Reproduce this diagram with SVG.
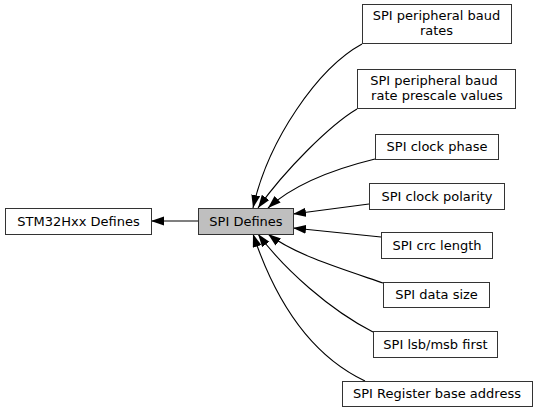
<svg xmlns="http://www.w3.org/2000/svg" width="537" height="411" viewBox="0 0 537 411">
<style>
.box{fill:#ffffff;stroke:#333333;stroke-width:1}
.cur{fill:#bfbfbf;stroke:#333333;stroke-width:1}
text{font-family:"DejaVu Sans",sans-serif;font-size:13px;fill:#000000;text-anchor:middle}
.edge{fill:none;stroke:#000000;stroke-width:1.1;marker-end:url(#arr)}
</style>
<defs>
<marker id="arr" markerUnits="userSpaceOnUse" markerWidth="14" markerHeight="10" refX="13" refY="4.5" orient="auto" viewBox="0 0 14 10">
<path d="M0,0 L13,4.5 L0,9 z" fill="#000000"/>
</marker>
</defs>
<rect width="537" height="411" fill="#ffffff"/>
<g id="connectors">
<path class="edge" d="M198,221 L151,221"/>
<path class="edge" d="M362,44 C318,68 268,140 253,208"/>
<path class="edge" d="M357,109 C330,125 285,170 258,208"/>
<path class="edge" d="M375,159 C330,170 292,186 268,208"/>
<path class="edge" d="M369,204 L293,214"/>
<path class="edge" d="M381,237 L293,228"/>
<path class="edge" d="M383,283 C345,270 295,255 268,234"/>
<path class="edge" d="M373,332 C330,310 285,270 258,234"/>
<path class="edge" d="M365,381 C310,355 275,300 253,234"/>
</g>
<g id="stm32">
<rect class="box" x="5.5" y="208.5" width="146" height="26"/>
<text x="78.5" y="225.5">STM32Hxx Defines</text>
</g>
<g id="spi_defines">
<rect class="cur" x="198.5" y="208.5" width="95" height="26"/>
<text x="246" y="225.5">SPI Defines</text>
</g>
<g id="baud_rates">
<rect class="box" x="362.5" y="4.5" width="149" height="39"/>
<text x="436.5" y="20">SPI peripheral baud</text>
<text x="436.5" y="35">rates</text>
</g>
<g id="baud_prescale">
<rect class="box" x="357.5" y="69.5" width="158" height="39"/>
<text x="434" y="85">SPI peripheral baud</text>
<text x="437" y="100">rate prescale values</text>
</g>
<g id="clock_phase">
<rect class="box" x="375.5" y="134.5" width="123" height="25"/>
<text x="437" y="150.5">SPI clock phase</text>
</g>
<g id="clock_polarity">
<rect class="box" x="369.5" y="183.5" width="135" height="26"/>
<text x="437" y="200.5">SPI clock polarity</text>
</g>
<g id="crc_length">
<rect class="box" x="381.5" y="232.5" width="111" height="26"/>
<text x="437" y="249.5">SPI crc length</text>
</g>
<g id="data_size">
<rect class="box" x="383.5" y="282.5" width="106" height="25"/>
<text x="436.5" y="298.5">SPI data size</text>
</g>
<g id="lsb_msb">
<rect class="box" x="373.5" y="331.5" width="124" height="26"/>
<text x="435.5" y="348.5">SPI lsb/msb first</text>
</g>
<g id="register_base">
<rect class="box" x="342.5" y="381.5" width="190" height="25"/>
<text x="437" y="397.5">SPI Register base address</text>
</g>
</svg>
